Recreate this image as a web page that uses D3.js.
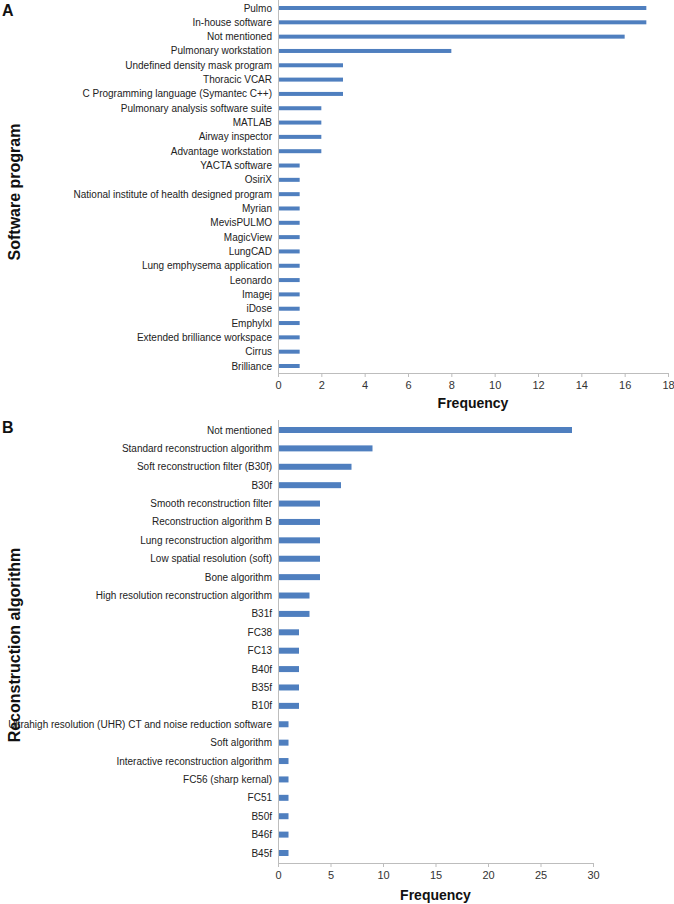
<!DOCTYPE html>
<html><head><meta charset="utf-8">
<script src="https://cdn.jsdelivr.net/npm/d3@7"></script>
<style>body{margin:0;background:#fff}svg{display:block}</style>
</head><body>
<script>
const softwareNames = ["Pulmo","In-house software","Not mentioned","Pulmonary workstation","Undefined density mask program","Thoracic VCAR","C Programming language (Symantec C++)","Pulmonary analysis software suite","MATLAB","Airway inspector","Advantage workstation","YACTA software","OsiriX","National institute of health designed program","Myrian","MevisPULMO","MagicView","LungCAD","Lung emphysema application","Leonardo","Imagej","iDose","Emphylxl","Extended brilliance workspace","Cirrus","Brilliance"];
const softwareFreq = [17,17,16,8,3,3,3,2,2,2,2,1,1,1,1,1,1,1,1,1,1,1,1,1,1,1];
const softwareTicks = [0,2,4,6,8,10,12,14,16,18];

const reconNames = ["Not mentioned","Standard reconstruction algorithm","Soft reconstruction filter (B30f)","B30f","Smooth reconstruction filter","Reconstruction algorithm B","Lung reconstruction algorithm","Low spatial resolution (soft)","Bone algorithm","High resolution reconstruction algorithm","B31f","FC38","FC13","B40f","B35f","B10f","Ultrahigh resolution (UHR) CT and noise reduction software","Soft algorithm","Interactive reconstruction algorithm","FC56 (sharp kernal)","FC51","B50f","B46f","B45f"];
const reconFreq = [28,9,7,6,4,4,4,4,4,3,3,2,2,2,2,2,1,1,1,1,1,1,1,1];
const reconTicks = [0,5,10,15,20,25,30];

const W = 674, H = 904;
const svg = d3.select("body").append("svg").attr("width", W).attr("height", H);
const font = "Liberation Sans, Arial, Helvetica, sans-serif";
const barColor = "#4f7fbf";
const axisColor = "#bdbdbd";

function panel(cfg){
  const g = svg.append("g");
  const x = d3.scaleLinear().domain([0, cfg.max]).range([cfg.x0, cfg.x1]);
  const y = d3.scalePoint().domain(cfg.names).range([cfg.yFirst, cfg.yLast]);
  g.selectAll("rect.bar").data(cfg.values).enter().append("rect")
    .attr("x", x(0))
    .attr("y", (d,i) => y(cfg.names[i]) - cfg.barH/2)
    .attr("width", d => x(d) - x(0))
    .attr("height", cfg.barH)
    .attr("fill", barColor);
  g.selectAll("text.cat").data(cfg.names).enter().append("text")
    .attr("x", x(0) - 6).attr("y", d => y(d)).attr("dy", "0.35em")
    .attr("text-anchor", "end").attr("font-family", font).attr("font-size", cfg.fs)
    .attr("fill", "#222").text(d => d);
  g.append("line").attr("x1", x(0)+0.5).attr("x2", x(0)+0.5)
    .attr("y1", cfg.yTop).attr("y2", cfg.axisY).attr("stroke", axisColor);
  const ax = d3.axisBottom(x).tickValues(cfg.ticks).tickSize(4).tickPadding(4).tickSizeOuter(0);
  const axg = g.append("g").attr("transform", `translate(0,${cfg.axisY})`).call(ax);
  axg.select(".domain").attr("stroke", axisColor);
  axg.selectAll(".tick line").attr("stroke", axisColor);
  axg.selectAll(".tick text").attr("font-family", font).attr("font-size", 11).attr("fill", "#333");
  g.append("text").attr("x", (cfg.x0 + cfg.x1)/2).attr("y", cfg.xTitleY)
    .attr("text-anchor", "middle").attr("font-family", font).attr("font-weight", "bold")
    .attr("font-size", 14).attr("fill", "#111").text("Frequency");
  g.append("text").attr("transform", `translate(${cfg.yTitleX},${cfg.yTitleY}) rotate(-90)`)
    .attr("text-anchor", "middle").attr("font-family", font).attr("font-weight", "bold")
    .attr("font-size", 16).attr("fill", "#111").text(cfg.yTitle);
  g.append("text").attr("x", 2).attr("y", cfg.letterY).attr("font-family", font)
    .attr("font-weight", "bold").attr("font-size", 16).attr("fill", "#111").text(cfg.letter);
}

panel({names: softwareNames, values: softwareFreq, ticks: softwareTicks, max: 18,
  x0: 278, x1: 668, yFirst: 8, yLast: 366, yTop: 0, axisY: 373, barH: 4, fs: 10,
  xTitleY: 408, yTitle: "Software program", yTitleX: 20, yTitleY: 192, letter: "A", letterY: 16});

panel({names: reconNames, values: reconFreq, ticks: reconTicks, max: 30,
  x0: 278, x1: 593, yFirst: 430, yLast: 853, yTop: 420, axisY: 863, barH: 6, fs: 10,
  xTitleY: 900, yTitle: "Reconstruction algorithm", yTitleX: 20, yTitleY: 645, letter: "B", letterY: 433});
</script>
</body></html>
